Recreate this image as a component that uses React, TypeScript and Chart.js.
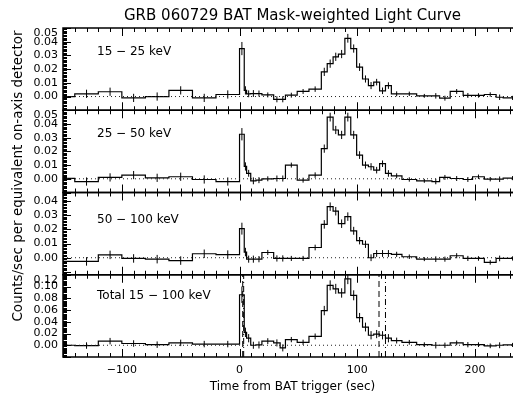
import React, { useEffect, useRef } from 'react';
import { Chart, registerables } from 'chart.js';

Chart.register(...registerables);

// ---- time bins (s, relative to BAT trigger) ----
const EDGES = [-160, -140, -120, -100, -80, -60, -40, -20, 0, 4, 6, 9.5, 14, 19, 29, 34.5, 39, 49, 59,
  69.5, 74.5, 79.5, 84, 89.5, 94.5, 99.5, 104.5, 109.5, 114, 119, 124, 129, 138, 150.5, 163.5, 170, 179,
  190, 198, 208, 218, 224, 240];

// ---- count rates per band ----
const RATE_15_25 = [0.000, 0.002, 0.0035, -0.001, 0.000, 0.0045, -0.001, 0.0015,
  0.035, 0.0045, 0.002, 0.0022, 0.0022, 0.0012, -0.002, -0.002, 0.001, 0.0037, 0.0054,
  0.018, 0.024, 0.029, 0.031, 0.0425, 0.035, 0.0215, 0.0128, 0.008, 0.0105,
  0.0042, 0.008, 0.002, 0.002, 0.0005, 0.0005, -0.0012, 0.0037, 0.0008, 0.0008, 0.0015, -0.0005, -0.001];
const ERR_15_25 = [0.003, 0.003, 0.003, 0.003, 0.003, 0.003, 0.003, 0.003,
  0.0048, 0.003, 0.0025, 0.0025, 0.0022, 0.0018, 0.0022, 0.0022, 0.0018, 0.0018, 0.002,
  0.003, 0.003, 0.003, 0.003, 0.0032, 0.003, 0.0028, 0.0026, 0.0026, 0.0024,
  0.0024, 0.0024, 0.0018, 0.0016, 0.0014, 0.002, 0.0018, 0.0018, 0.0018, 0.0016, 0.0016, 0.002, 0.0015];

const RATE_25_50 = [0.0003, -0.002, 0.001, 0.0027, 0.0007, 0.0015, -0.0005, -0.002,
  0.0325, 0.009, 0.004, -0.0015, -0.001, 0.000, 0.0002, 0.0002, 0.010, -0.001, 0.0027,
  0.022, 0.045, 0.0356, 0.032, 0.045, 0.032, 0.0173, 0.010, 0.0088, 0.0063,
  0.011, 0.0039, 0.0022, -0.0005, -0.0015, -0.002, 0.001, 0.0002, -0.0005, 0.0015, -0.0003, -0.0003, 0.0005];
const ERR_25_50 = [0.003, 0.003, 0.003, 0.003, 0.003, 0.003, 0.003, 0.003,
  0.0045, 0.003, 0.0025, 0.0025, 0.0022, 0.0018, 0.0022, 0.0022, 0.0018, 0.0018, 0.002,
  0.003, 0.0032, 0.003, 0.003, 0.0032, 0.003, 0.0028, 0.0026, 0.0026, 0.0024,
  0.0024, 0.0024, 0.0018, 0.0016, 0.0014, 0.002, 0.0018, 0.0018, 0.0018, 0.0016, 0.0016, 0.002, 0.0015];

const RATE_50_100 = [-0.0026, -0.0026, 0.002, -0.0005, -0.001, -0.002, 0.0028, 0.0022,
  0.0205, 0.004, -0.001, -0.001, -0.001, 0.0037, -0.0005, -0.0005, -0.0005, -0.0005, 0.0072,
  0.0235, 0.036, 0.0328, 0.024, 0.029, 0.019, 0.012, 0.0095, 0.000, 0.003,
  0.003, 0.003, 0.0024, 0.0007, -0.001, -0.001, -0.001, 0.0014, -0.0005, -0.0005, -0.0033, -0.0005, -0.0005];
const ERR_50_100 = [0.003, 0.003, 0.003, 0.003, 0.003, 0.003, 0.003, 0.003,
  0.0042, 0.003, 0.0025, 0.0025, 0.0022, 0.0018, 0.0022, 0.0022, 0.0018, 0.0018, 0.002,
  0.003, 0.003, 0.003, 0.003, 0.003, 0.0028, 0.0026, 0.0026, 0.0024, 0.0024,
  0.0024, 0.0024, 0.0018, 0.0016, 0.0014, 0.002, 0.0018, 0.0018, 0.0018, 0.0016, 0.0016, 0.002, 0.0015];

const RATE_15_100 = [0.000, -0.0005, 0.007, 0.003, 0.001, 0.004, 0.002, 0.002,
  0.086, 0.022, 0.012, 0.000, 0.0005, 0.007, 0.004, -0.0045, 0.0096, 0.005, 0.015,
  0.059, 0.102, 0.096, 0.089, 0.113, 0.085, 0.047, 0.031, 0.017, 0.019,
  0.017, 0.012, 0.008, 0.005, 0.001, 0.000, 0.000, 0.004, 0.001, 0.001, -0.001, 0.000, 0.0005];
const ERR_15_100 = [0.0055, 0.0055, 0.0055, 0.0055, 0.0055, 0.0055, 0.0055, 0.0055,
  0.014, 0.008, 0.007, 0.006, 0.006, 0.005, 0.006, 0.006, 0.0045, 0.0045, 0.005,
  0.008, 0.0085, 0.0085, 0.008, 0.009, 0.0085, 0.008, 0.0075, 0.007, 0.007,
  0.007, 0.007, 0.005, 0.004, 0.004, 0.0055, 0.0045, 0.004, 0.0045, 0.004, 0.004, 0.005, 0.0035];

// ---- axis tick labels ----
const TICKS_15_25 = [0, 0.01, 0.02, 0.03, 0.04, 0.05];
const TICKS_25_50 = [0, 0.01, 0.02, 0.03, 0.04, 0.05];
const TICKS_50_100 = [0, 0.01, 0.02, 0.03, 0.04];
const TICKS_15_100 = [0, 0.02, 0.04, 0.06, 0.08, 0.10, 0.12];
const X_TICKS = [-100, 0, 100, 200];

// ---- duration markers (s) ----
const T_DASHED = [2.7, 118.5];
const T_DASHDOT = [3.5, 124];

const X_MIN = -150;
const X_MAX = 240;

const FONT = "'DejaVu Sans', sans-serif";

const PANELS = [
  { id: 'y1', label: '15 − 25 keV', min: -0.01, max: 0.05, major: 0.01, ticks: TICKS_15_25, rate: RATE_15_25, err: ERR_15_25, labelDy: 24 },
  { id: 'y2', label: '25 − 50 keV', min: -0.01, max: 0.05, major: 0.01, ticks: TICKS_25_50, rate: RATE_25_50, err: ERR_25_50, labelDy: 24 },
  { id: 'y3', label: '50 − 100 keV', min: -0.012, max: 0.046, major: 0.01, ticks: TICKS_50_100, rate: RATE_50_100, err: ERR_50_100, labelDy: 27 },
  { id: 'y4', label: 'Total 15 − 100 keV', min: -0.02, max: 0.12, major: 0.02, ticks: TICKS_15_100, rate: RATE_15_100, err: ERR_15_100, labelDy: 21 },
];

function stepData(rate: number[]) {
  const pts = rate.map((v, i) => ({ x: EDGES[i], y: v }));
  pts.push({ x: EDGES[rate.length], y: rate[rate.length - 1] });
  return pts;
}

function errData(rate: number[], err: number[]) {
  const pts: { x: number; y: number | null }[] = [];
  rate.forEach((v, i) => {
    const c = (EDGES[i] + EDGES[i + 1]) / 2;
    pts.push({ x: c, y: v - err[i] });
    pts.push({ x: c, y: v + err[i] });
    pts.push({ x: c, y: null });
  });
  return pts;
}

const framePlugin = {
  id: 'idlFrames',
  afterDatasetsDraw(chart: any) {
    const ctx = chart.ctx as CanvasRenderingContext2D;
    const area = chart.chartArea;
    const xs = chart.scales.x;
    const left = area.left;
    const right = area.right;
    const line = (x1: number, y1: number, x2: number, y2: number) => {
      ctx.beginPath();
      ctx.moveTo(x1, y1);
      ctx.lineTo(x2, y2);
      ctx.stroke();
    };
    ctx.save();
    ctx.strokeStyle = '#000';
    ctx.fillStyle = '#000';
    PANELS.forEach((p) => {
      const ys = chart.scales[p.id];
      const top = ys.top;
      const bottom = ys.bottom;
      ctx.lineWidth = 1.5;
      ctx.strokeRect(left, top, right - left, bottom - top);
      ctx.lineWidth = 1;
      // y ticks
      const minor = p.major / 10;
      const j0 = Math.ceil(p.min / minor - 1e-6);
      const j1 = Math.floor(p.max / minor + 1e-6);
      for (let j = j0; j <= j1; j++) {
        const v = j * minor;
        const yy = Math.round(ys.getPixelForValue(v)) + 0.5;
        const isMajor = j % 10 === 0;
        const len = isMajor ? 8 : 4;
        line(left, yy, left + len, yy);
        line(right - len, yy, right, yy);
      }
      // x ticks on top and bottom of each panel
      for (let v = Math.ceil(xs.min / 10) * 10; v <= xs.max; v += 10) {
        const xx = Math.round(xs.getPixelForValue(v)) + 0.5;
        const len = v % 100 === 0 ? 8 : 4;
        line(xx, top, xx, top + len);
        line(xx, bottom, xx, bottom - len);
      }
      // y tick labels
      ctx.font = `11px ${FONT}`;
      ctx.textAlign = 'right';
      ctx.textBaseline = 'middle';
      p.ticks.forEach((v) => {
        const yy = Math.max(ys.getPixelForValue(v), top + 5);
        ctx.fillText(v.toFixed(2), left - 5, yy);
      });
      // band label
      ctx.font = `12px ${FONT}`;
      ctx.textAlign = 'left';
      ctx.fillText(p.label, left + 34, top + p.labelDy);
    });
    // x tick labels
    ctx.font = `11px ${FONT}`;
    ctx.textAlign = 'center';
    ctx.textBaseline = 'middle';
    X_TICKS.forEach((v) => {
      const txt = v < 0 ? '−' + Math.abs(v) : String(v);
      ctx.fillText(txt, xs.getPixelForValue(v), area.bottom + 13);
    });
    // axis titles
    ctx.font = `12px ${FONT}`;
    ctx.fillText('Time from BAT trigger (sec)', (left + right) / 2, area.bottom + 30);
    ctx.font = `15px ${FONT}`;
    ctx.fillText('GRB 060729 BAT Mask-weighted Light Curve', (left + right) / 2, 16);
    ctx.save();
    ctx.translate(18, 176);
    ctx.rotate(-Math.PI / 2);
    ctx.font = `13.5px ${FONT}`;
    ctx.fillText('Counts/sec per equivalent on-axis detector', 0, 0);
    ctx.restore();
    ctx.restore();
  },
};

export default function App() {
  const ref = useRef<HTMLCanvasElement>(null);
  useEffect(() => {
    const datasets: any[] = [];
    PANELS.forEach((p) => {
      datasets.push({
        data: [{ x: X_MIN, y: 0 }, { x: X_MAX, y: 0 }],
        yAxisID: p.id, xAxisID: 'x', borderColor: '#222', borderWidth: 1, borderDash: [1, 3],
        pointRadius: 0, fill: false,
      });
      datasets.push({
        data: stepData(p.rate), yAxisID: p.id, xAxisID: 'x', stepped: 'before',
        borderColor: '#000', borderWidth: 1.2, pointRadius: 0, fill: false,
      });
      datasets.push({
        data: errData(p.rate, p.err), yAxisID: p.id, xAxisID: 'x', spanGaps: false,
        borderColor: '#000', borderWidth: 1, pointRadius: 0, fill: false,
      });
    });
    const p4 = PANELS[3];
    T_DASHED.forEach((t) => {
      datasets.push({
        data: [{ x: t, y: p4.min }, { x: t, y: p4.max }], yAxisID: 'y4', xAxisID: 'x',
        borderColor: '#000', borderWidth: 1, borderDash: [6, 4], pointRadius: 0, fill: false,
      });
    });
    T_DASHDOT.forEach((t) => {
      datasets.push({
        data: [{ x: t, y: p4.min }, { x: t, y: p4.max }], yAxisID: 'y4', xAxisID: 'x',
        borderColor: '#000', borderWidth: 1, borderDash: [6, 3, 1, 3], pointRadius: 0, fill: false,
      });
    });

    const yScale = (p: any) => ({
      type: 'linear', position: 'left', stack: 'panels', stackWeight: 1,
      min: p.min, max: p.max,
      ticks: { display: false }, grid: { display: false }, border: { display: false },
      afterFit: (s: any) => { s.width = 0; },
    });

    const chart = new Chart(ref.current as HTMLCanvasElement, {
      type: 'line',
      data: { datasets },
      options: {
        responsive: false,
        devicePixelRatio: 1,
        animation: false,
        events: [],
        layout: { padding: { left: 63, top: 28, right: 0, bottom: 0 } },
        plugins: { legend: { display: false }, tooltip: { enabled: false }, title: { display: false } },
        scales: {
          x: {
            type: 'linear', position: 'bottom', min: X_MIN, max: X_MAX,
            ticks: { display: false, stepSize: 100 }, grid: { display: false }, border: { display: false },
            afterFit: (s: any) => { s.height = 39; },
          },
          y4: yScale(PANELS[3]),
          y3: yScale(PANELS[2]),
          y2: yScale(PANELS[1]),
          y1: yScale(PANELS[0]),
        } as any,
      },
      plugins: [framePlugin],
    } as any);
    return () => chart.destroy();
  }, []);

  return (
    <div style={{ position: 'fixed', left: 0, top: 0, width: 513, height: 396, overflow: 'hidden', background: '#fff' }}>
      <canvas ref={ref} width={522} height={396} style={{ display: 'block' }} />
    </div>
  );
}
